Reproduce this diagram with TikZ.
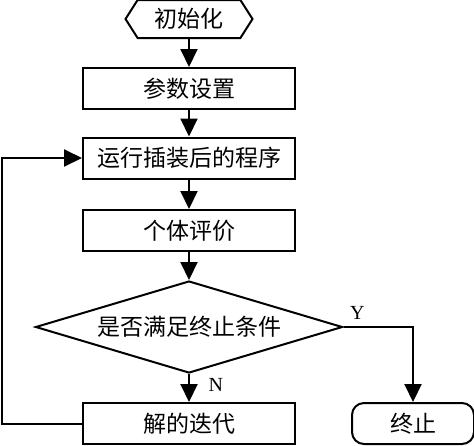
\documentclass[tikz,border=0pt]{standalone}
\usepackage{fontspec}
\setmainfont{Liberation Serif}
\newfontfamily\cjk{Noto Sans CJK SC}
\usetikzlibrary{positioning, arrows.meta, shapes.geometric, shapes.symbols}
\tikzset{
  rect1/.style = {
    shape = rectangle,
    draw = black,
    line width = 1pt,
    minimum width = 106pt,
    minimum height = 20.5pt,
    inner sep = 0pt,
    font = \cjk\fontsize{11.5}{12}\selectfont,
  }
}
\tikzset{
  hex1/.style = {
    shape = signal,
    signal to = west and east,
    signal pointer angle = 115,
    draw = black,
    line width = 1pt,
    minimum width = 63.5pt,
    minimum height = 19pt,
    inner sep = 0pt,
    font = \cjk\fontsize{11.5}{12}\selectfont,
  }
}
\tikzset{
  dia1/.style = {
    shape = diamond,
    aspect = 3.3,
    draw = black,
    line width = 1pt,
    minimum width = 153.5pt,
    minimum height = 46pt,
    inner sep = 0pt,
    font = \cjk\fontsize{11.5}{12}\selectfont,
  }
}
\tikzset{
  round1/.style = {
    rect1,
    rounded corners = 6pt,
    minimum width = 61pt,
  }
}
\tikzset{
  arrow1/.style = {
    draw = black, line width = 1pt, -{Triangle[length = 9pt, width = 8.5pt]},
  }
}

\begin{document}
\begin{tikzpicture}
        \useasboundingbox (0,0) rectangle (237pt,-222.5pt);
        \node[hex1] (1) at (94.5pt,-9.5pt) {初始化};
        \node[rect1, below=14pt of 1](2){参数设置};
        \node[rect1, below=13.25pt of 2](3){运行插装后的程序};
        \node[rect1, below=14.75pt of 3](4){个体评价};
        \node[dia1, below=14pt of 4](5){是否满足终止条件};
        \node[rect1, below=14pt of 5](6){解的迭代};
        \node[round1, right=27.5pt of 6](7){终止};
        \draw[arrow1](1) -- (2);
        \draw[arrow1](2) -- (3);
        \draw[arrow1](3) -- (4);
        \draw[arrow1](4) -- (5);
        \draw[arrow1](5) -- node[pos=0.4, right=6pt, font=\fontsize{10}{12}\selectfont]{N} (6);
        \draw[arrow1](5.east) -| node[pos=0.1, above, font=\fontsize{10}{12}\selectfont]{Y} (7.north);
        \draw[arrow1](6.west) -- ++(-40pt,0) |- (3.west);
    \end{tikzpicture}
\end{document}
